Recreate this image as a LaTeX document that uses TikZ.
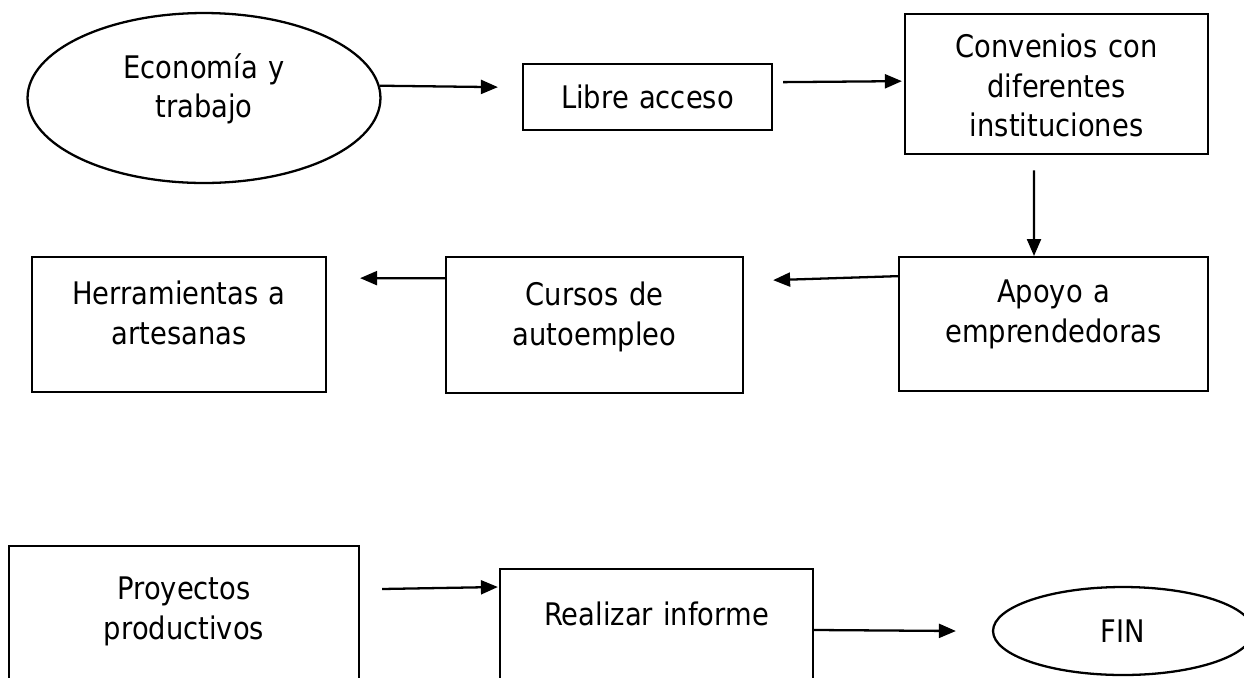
\documentclass[tikz,border=0pt]{standalone}
\usepackage{fontspec}
\setmainfont{DejaVu Sans}[FakeStretch=0.88]
\usetikzlibrary{arrows.meta,shapes.geometric}

\begin{document}
\begin{tikzpicture}[
  x=0.02cm, y=-0.02cm,
  >={Triangle[length=0.34cm,width=0.28cm]},
  every node/.style={font=\fontsize{17.7pt}{22.7pt}\selectfont},
  stepbox/.style={draw,line width=1.3pt,align=center,inner sep=0pt,anchor=north},
  oval/.style={draw,line width=1.3pt,ellipse,align=center,inner sep=0pt},
  link/.style={->,line width=1.3pt}
]
  \useasboundingbox (0,0) rectangle (1244,677);
  \clip (0,0) rectangle (1244,677);

  \node[oval,minimum width=7.06cm,minimum height=3.4cm,text width=4.8cm,
    text height=0.6cm,text depth=1.4cm] (eco) at (204,98) {Economía y\\trabajo};
  \node[stepbox,text width=4.98cm,text height=0.88cm,text depth=0.44cm]
    (libre) at (647.5,63) {Libre acceso};
  \node[stepbox,text width=6.06cm,text height=0.86cm,text depth=1.94cm]
    (conv) at (1056.5,13) {Convenios con\\diferentes\\instituciones};

  \node[stepbox,text width=6.18cm,text height=0.9cm,text depth=1.78cm]
    (apoyo) at (1053.5,256) {Apoyo a\\emprendedoras};
  \node[stepbox,text width=5.94cm,text height=0.96cm,text depth=1.76cm]
    (cursos) at (594.5,256) {Cursos de\\autoempleo};
  \node[stepbox,text width=5.88cm,text height=0.94cm,text depth=1.76cm]
    (herr) at (179,256) {Herramientas a\\artesanas};

  \node[stepbox,text width=7.0cm,text height=1.06cm,text depth=2.04cm]
    (proy) at (184,545) {Proyectos\\productivos};
  \node[stepbox,text width=6.26cm,text height=1.12cm,text depth=1.52cm]
    (real) at (656.5,568) {Realizar informe};
  \node[oval,minimum width=5.2cm,minimum height=1.76cm] (fin) at (1123,631) {FIN};

  \draw[link] (eco.4) -- ([xshift=-0.48cm,yshift=0.2cm]libre.west);
  \draw[link] ([xshift=0.2cm,yshift=0.3cm]libre.east) -- ([xshift=-0.04cm,yshift=0.06cm]conv.west);
  \draw[link] ([xshift=-0.45cm,yshift=-0.3cm]conv.south) -- ([xshift=-0.39cm]apoyo.north);
  \draw[link] ([yshift=0.96cm]apoyo.west) -- ([xshift=0.58cm,yshift=0.9cm]cursos.east);
  \draw[link] ([yshift=0.94cm]cursos.west) -- ([xshift=0.66cm,yshift=0.93cm]herr.east);
  \draw[link] ([xshift=0.44cm,yshift=-0.88cm]proy.north east) -- ([xshift=-0.02cm,yshift=-0.38cm]real.north west);
  \draw[link] ([yshift=-1.24cm]real.north east) -- ([xshift=-0.72cm]fin.west);
\end{tikzpicture}
\end{document}
